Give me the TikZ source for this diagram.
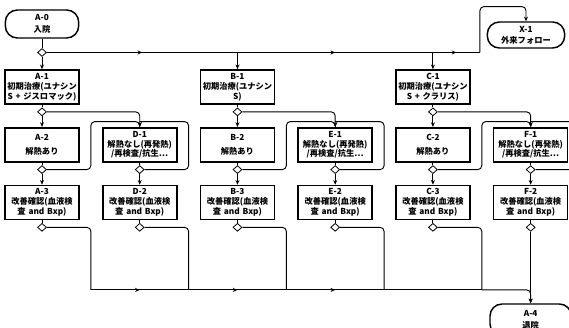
\documentclass[tikz,border=0pt]{standalone}
\usepackage{fontspec}
\setmainfont{Noto Sans CJK JP}
\usetikzlibrary{shapes.geometric, arrows.meta, positioning, decorations.markings}

\tikzset{
    % Base styles
    basebox/.style={
        draw, line width=1.2pt, align=center, fill=white,
        font=\fontsize{6.2}{7.4}\selectfont\bfseries,
        text width=52pt, inner xsep=1.75pt, inner ysep=1pt,
        minimum height=25.5pt
    },
    termnode/.style={
        draw, line width=1.1pt, align=center, fill=white,
        font=\fontsize{6.2}{7.4}\selectfont\bfseries,
        rounded corners=9pt, minimum height=21pt, inner sep=1pt
    },
    % Branch point
    joint/.style={
        diamond, draw, line width=0.6pt, fill=white, inner sep=0pt,
        minimum width=6.75pt, minimum height=6pt
    },
    % Connectors
    link/.style={line width=0.7pt, rounded corners=3pt},
    flow/.style={link, -{Stealth[length=3.5pt, width=3pt]}},
    midarrow/.style={link, postaction={decorate}, decoration={markings,
        mark=at position 0.5 with {\arrow{Stealth[length=3.5pt, width=3pt]}}}},
}

\begin{document}
\begin{tikzpicture}[x=0.75pt, y=0.75pt, node distance=16.6pt]
\useasboundingbox (0,0) rectangle (569,-328);

% Admission
\node (a0) [termnode, minimum width=55pt] at (42,-24) {A-0\\[2pt]入院};
\node (ja0) [joint, below=7pt of a0] {};

% Row 1: initial treatment
\node (a1) [basebox] at (42,-87) {A-1\\初期治療(ユナシン\\S + ジスロマック)};

% Row 2: fever course
\node (a2) [basebox, below=of a1] {A-2\\[3pt]解熱あり};
\node (d1) [basebox, right=of a2] {D-1\\解熱なし(再発熱)\\/再検査/抗生…};
\node (b2) [basebox, right=of d1] {B-2\\[3pt]解熱あり};
\node (e1) [basebox, right=of b2] {E-1\\解熱なし(再発熱)\\/再検査/抗生…};
\node (c2) [basebox, right=of e1] {C-2\\[3pt]解熱あり};
\node (f1) [basebox, right=of c2] {F-1\\解熱なし(再発熱)\\/再検査/抗生…};

\node (b1) [basebox, above=of b2] {B-1\\初期治療(ユナシン\\S)};
\node (c1) [basebox, above=of c2] {C-1\\初期治療(ユナシン\\S + クラリス)};

% Row 3: check of improvement
\node (a3) [basebox, below=of a2] {A-3\\改善確認(血液検\\査 and Bxp)};
\node (d2) [basebox, below=of d1] {D-2\\改善確認(血液検\\査 and Bxp)};
\node (b3) [basebox, below=of b2] {B-3\\改善確認(血液検\\査 and Bxp)};
\node (e2) [basebox, below=of e1] {E-2\\改善確認(血液検\\査 and Bxp)};
\node (c3) [basebox, below=of c2] {C-3\\改善確認(血液検\\査 and Bxp)};
\node (f2) [basebox, below=of f1] {F-2\\改善確認(血液検\\査 and Bxp)};

% Outpatient follow-up and discharge
\node (x1) [termnode, minimum width=58pt, minimum height=19.5pt] at (526,-35) {X-1\\[1pt]外来フォロー};
\node (a4) [termnode, minimum width=61pt, minimum height=24pt] at (f2 |- 0,-320) {A-4\\[2pt]退院};

% Branch points under the boxes
\node (ja1) [joint, below=2pt of a1] {};
\node (jb1) [joint, below=2pt of b1] {};
\node (jc1) [joint, below=2pt of c1] {};
\node (ja2) [joint, below=2pt of a2] {};
\node (jd1) [joint, below=2pt of d1] {};
\node (jb2) [joint, below=2pt of b2] {};
\node (je1) [joint, below=2pt of e1] {};
\node (jc2) [joint, below=2pt of c2] {};
\node (jf1) [joint, below=2pt of f1] {};
\node (ja3) [joint, below=2pt of a3] {};
\node (jd2) [joint, below=2pt of d2] {};
\node (jb3) [joint, below=2pt of b3] {};
\node (je2) [joint, below=2pt of e2] {};
\node (jc3) [joint, below=2pt of c3] {};
\node (jf2) [joint, below=2pt of f2] {};

% Admission to initial treatment
\coordinate (jb) at (b1.north |- ja0.east);
\coordinate (jc) at (c1.north |- ja0.east);
\draw[link] (a0) -- (ja0);
\draw[flow] (ja0) -- (a1);
\draw[midarrow] (ja0.east) -- (jb);
\draw[flow] (jb) -- (b1);
\draw[midarrow] (jb) -- (jc);
\draw[flow] (jc) -- (c1);
\draw[midarrow] (jc) -- ++(47,0) coordinate (jx);
\draw[flow] (jx) |- ([yshift=11pt]x1.north) -- (x1.north);

% Initial treatment to fever course
\draw[link] (a1) -- (ja1);
\draw[flow] (ja1) -- (a2);
\draw[flow] (ja1.east) -| (d1);
\draw[link] (b1) -- (jb1);
\draw[flow] (jb1) -- (b2);
\draw[flow] (jb1.east) -| (e1);
\draw[link] (c1) -- (jc1);
\draw[flow] (jc1) -- (c2);
\draw[flow] (jc1.east) -| (f1);

% Relapse loops
\draw[flow] (ja2.east) -| ([xshift=-8.3pt, yshift=4pt]d1.north west) -| (d1.north);
\draw[link] (jd1.east) -| ([xshift=8.3pt, yshift=4pt]d1.north east) -- ([yshift=4pt]d1.north);
\draw[flow] (jb2.east) -| ([xshift=-8.3pt, yshift=4pt]e1.north west) -| (e1.north);
\draw[link] (je1.east) -| ([xshift=8.3pt, yshift=4pt]e1.north east) -- ([yshift=4pt]e1.north);
\draw[flow] (jc2.east) -| ([xshift=-8.3pt, yshift=4pt]f1.north west) -| (f1.north);
\draw[link] (jf1.east) -| ([xshift=8.3pt, yshift=4pt]f1.north east) -- ([yshift=4pt]f1.north);

% Fever course to check of improvement
\draw[link] (a2) -- (ja2);
\draw[flow] (ja2) -- (a3);
\draw[link] (d1) -- (jd1);
\draw[flow] (jd1) -- (d2);
\draw[link] (b2) -- (jb2);
\draw[flow] (jb2) -- (b3);
\draw[link] (e1) -- (je1);
\draw[flow] (je1) -- (e2);
\draw[link] (c2) -- (jc2);
\draw[flow] (jc2) -- (c3);
\draw[link] (f1) -- (jf1);
\draw[flow] (jf1) -- (f2);

% Check of improvement to discharge
\coordinate (exit) at ([yshift=10pt]a4.north);
\coordinate (ga) at ([xshift=-8.3pt]d2.west |- exit);
\coordinate (gd) at ([xshift=8.3pt]d2.east |- exit);
\coordinate (gb) at ([xshift=8.3pt]b3.east |- exit);
\coordinate (ge) at ([xshift=8.3pt]e2.east |- exit);
\coordinate (gc) at ([xshift=8.3pt]c3.east |- exit);
\draw[link] (a3) -- (ja3);
\draw[link] (d2) -- (jd2);
\draw[link] (b3) -- (jb3);
\draw[link] (e2) -- (je2);
\draw[link] (c3) -- (jc3);
\draw[link] (f2) -- (jf2);
\draw[link] (ja3.east) -| (ga);
\draw[link] (jd2.east) -| (gd);
\draw[link] (jb3.east) -| (gb);
\draw[link] (je2.east) -| (ge);
\draw[link] (jc3.east) -| (gc);
\draw[midarrow] (ga) -- (gd);
\draw[midarrow] (gd) -- (gb);
\draw[midarrow] (gb) -- (ge);
\draw[link] (ge) -- (gc);
\draw[flow] (gc) -| (a4);
\draw[flow] (jf2) -- (a4);

\end{tikzpicture}
\end{document}
